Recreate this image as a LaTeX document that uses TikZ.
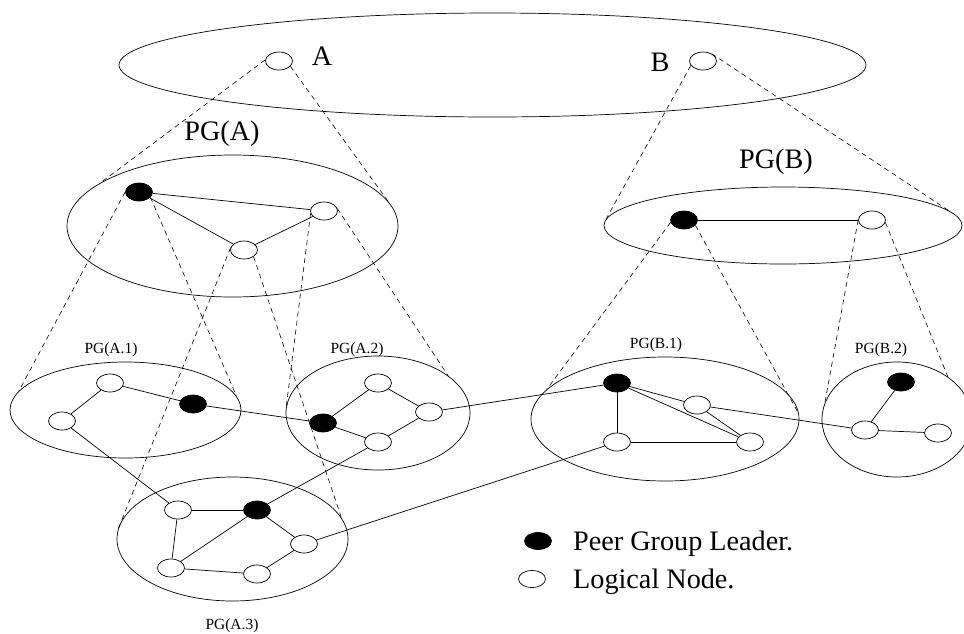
\documentclass[tikz,border=0pt]{standalone}
\usepackage{fontspec}
\setmainfont{Liberation Serif}
\usetikzlibrary{shapes.geometric}
\begin{document}
\begin{tikzpicture}[x=1pt,y=-1pt,
  grp/.style={draw, ellipse, inner sep=0pt, line width=0.7pt},
  pnode/.style={draw, ellipse, minimum width=27pt, minimum height=18pt, inner sep=0pt, line width=0.7pt},
  leader/.style={pnode, fill=black},
  link/.style={line width=0.7pt},
  proj/.style={line width=0.6pt, dash pattern=on 5pt off 4pt},
  big/.style={font=\fontsize{28.2}{30}\selectfont, inner sep=0pt},
  small/.style={font=\fontsize{15.5}{17}\selectfont, inner sep=0pt},
]
\useasboundingbox (0,0) rectangle (964,633);

% top level
\node[grp, minimum width=747pt, minimum height=104pt] (top) at (492.5,65) {};
\node[pnode] (A) at (279,61) {};
\node[pnode] (B) at (703,61) {};
\node[big, anchor=base] (lA) at (322,65) {A};
\node[big, anchor=base] (lB) at (660,71) {B};

% PG(A)
\node[grp, minimum width=331pt, minimum height=142pt] (PGA) at (232.5,226) {};
\node[big, anchor=base] (lPGA) at (222,140) {PG(A)};
\node[leader] (a0) at (139,192) {};
\node[pnode] (a1) at (324,211) {};
\node[pnode] (a2) at (244,250) {};
\draw[link] (a0) -- (a1);
\draw[link] (a0) -- (a2);
\draw[link] (a2) -- (a1);

% PG(B)
\node[grp, minimum width=358pt, minimum height=77pt] (PGB) at (783,225.5) {};
\node[big, anchor=base] (lPGB) at (776,168) {PG(B)};
\node[leader] (b0) at (684,220) {};
\node[pnode] (b1) at (872,220) {};
\draw[link] (b0) -- (b1);

% PG(A.1)
\node[grp, minimum width=231pt, minimum height=96pt] (A1) at (125.5,410) {};
\node[small, anchor=base] (lA1) at (111,353) {PG(A.1)};
\node[pnode] (p1) at (110,383) {};
\node[pnode] (p2) at (62,421) {};
\node[leader] (p3) at (193,404) {};
\draw[link] (p1) -- (p2);
\draw[link] (p1) -- (p3);

% PG(A.2)
\node[grp, minimum width=184pt, minimum height=114pt] (A2) at (378,413) {};
\node[small, anchor=base] (lA2) at (357,353) {PG(A.2)};
\node[pnode] (q1) at (378,383) {};
\node[pnode] (q2) at (429,412) {};
\node[leader] (q3) at (323,423) {};
\node[pnode] (q4) at (378,442) {};
\draw[link] (q3) -- (q1);
\draw[link] (q1) -- (q2);
\draw[link] (q3) -- (q4);
\draw[link] (q4) -- (q2);

% PG(A.3)
\node[grp, minimum width=231pt, minimum height=124pt] (A3) at (232.5,539) {};
\node[small, anchor=base] (lA3) at (232,629) {PG(A.3)};
\node[pnode] (r1) at (178,510) {};
\node[leader] (r2) at (257,510) {};
\node[pnode] (r3) at (304,544) {};
\node[pnode] (r4) at (171,568) {};
\node[pnode] (r5) at (257,574) {};
\draw[link] (r1) -- (r2);
\draw[link] (r1) -- (r4);
\draw[link] (r2) -- (r4);
\draw[link] (r2) -- (r3);
\draw[link] (r3) -- (r5);
\draw[link] (r4) -- (r5);

% PG(B.1)
\node[grp, minimum width=268pt, minimum height=124pt] (B1) at (665,419) {};
\node[small, anchor=base] (lB1) at (656,348) {PG(B.1)};
\node[leader] (s1) at (617,383) {};
\node[pnode] (s2) at (697,405) {};
\node[pnode] (s3) at (617,442) {};
\node[pnode] (s4) at (750,442) {};
\draw[link] (s1) -- (s3);
\draw[link] (s1) -- (s2);
\draw[link] (s1) -- (s4);
\draw[link] (s2) -- (s4);
\draw[link] (s3) -- (s4);

% PG(B.2)
\node[grp, minimum width=150pt, minimum height=115pt] (B2) at (897,419.5) {};
\node[small, anchor=base] (lB2) at (881,353) {PG(B.2)};
\node[leader] (t1) at (901,382) {};
\node[pnode] (t2) at (865,430) {};
\node[pnode] (t3) at (938,433) {};
\draw[link] (t1) -- (t2);
\draw[link] (t2) -- (t3);

% links between groups
\draw[link] (p3) -- (q3);
\draw[link] (p2) -- (r1);
\draw[link] (q4) -- (r2);
\draw[link] (q2) -- (s1);
\draw[link] (r3) -- (s3);
\draw[link] (s2) -- (t2);

% projections
\draw[proj] (A.175) -- (PGA.162.8);
\draw[proj] (A.-25) -- (PGA.9.9);
\draw[proj] (B.200) -- (PGB.178);
\draw[proj] (B.40) -- (PGB.5.9);
\draw[proj] (a0.180) -- (A1.170.7);
\draw[proj] (a0.-25) -- (A1.7.6);
\draw[proj] (a2.170) -- (A3.175.3);
\draw[proj] (a2.-35) -- (A3.11.3);
\draw[proj] (a1.190) -- (A2.176.9);
\draw[proj] (a1.10) -- (A2.28.8);
\draw[proj] (b0.190) -- (B1.166.6);
\draw[proj] (b0.-25) -- (B1.2);
\draw[proj] (b1.west) -- (B2.167);
\draw[proj] (b1.-10) -- (B2.40);

% legend
\node[leader, minimum height=17pt] (kL) at (538,541) {};
\node[pnode, minimum height=17pt] (kN) at (532,579) {};
\node[big, anchor=base west] (tL) at (573,550) {Peer Group Leader.};
\node[big, anchor=base west] (tN) at (573,588) {Logical Node.};
\end{tikzpicture}
\end{document}
